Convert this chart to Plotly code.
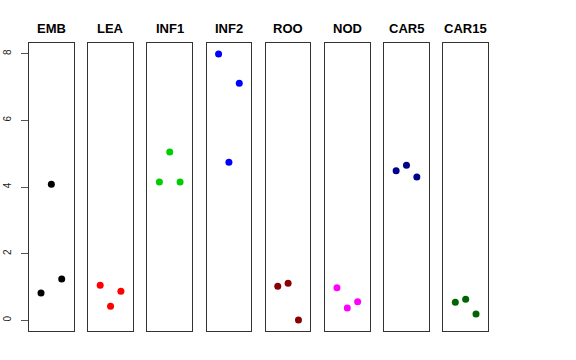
import plotly.graph_objects as go

groups = ["EMB", "LEA", "INF1", "INF2", "ROO", "NOD", "CAR5", "CAR15"]
colors = ["#000000", "#FF0000", "#00CD00", "#0000FF", "#8B0000", "#FF00FF", "#00008B", "#006400"]
replicate = [1, 2, 3]
EMB = [0.82, 4.08, 1.24]
LEA = [1.05, 0.42, 0.87]
INF1 = [4.15, 5.05, 4.15]
INF2 = [7.99, 4.74, 7.11]
ROO = [1.02, 1.11, 0.01]
NOD = [0.98, 0.37, 0.56]
CAR5 = [4.49, 4.65, 4.30]
CAR15 = [0.54, 0.63, 0.19]
series = [EMB, LEA, INF1, INF2, ROO, NOD, CAR5, CAR15]
y_ticks = [0, 2, 4, 6, 8]

W, H = 576, 360
L, R, T, B = 29, 88, 43, 29
pw = W - L - R
step = 59.19
panel_w = 44.7

fig = go.Figure()
layout = dict(
    width=W, height=H,
    margin=dict(l=L, r=R, t=T, b=B),
    paper_bgcolor="white", plot_bgcolor="white",
    showlegend=False,
    font=dict(family="Liberation Sans, Arial, sans-serif", color="black"),
    annotations=[],
)

for i, (g, c, vals) in enumerate(zip(groups, colors, series)):
    n = "" if i == 0 else str(i + 1)
    x0 = (i * step) / pw
    x1 = (i * step + panel_w) / pw
    fig.add_trace(go.Scatter(
        x=replicate, y=vals, mode="markers",
        marker=dict(color=c, size=7, line=dict(width=0)),
        xaxis="x" + n, yaxis="y" + n, hoverinfo="skip",
    ))
    layout["xaxis" + n] = dict(
        domain=[max(0, x0), min(1, x1)], range=[-0.16, 4.16],
        showgrid=False, zeroline=False, showticklabels=False, ticks="",
        showline=True, mirror=True, linecolor="#333333", linewidth=1,
        anchor="y" + n, automargin=False,
    )
    ya = dict(
        domain=[0, 1], range=[-0.32, 8.32], showgrid=False, zeroline=False,
        showline=True, mirror=True, linecolor="#333333", linewidth=1,
        anchor="x" + n, automargin=False,
    )
    if i == 0:
        ya.update(tickvals=y_ticks, ticktext=[str(v) for v in y_ticks],
                  ticks="outside", ticklen=7, tickcolor="#555555", tickwidth=1,
                  tickangle=-90, tickfont=dict(size=10, color="#222222"),
                  ticklabelstandoff=6)
    else:
        ya.update(showticklabels=False, ticks="")
    layout["yaxis" + n] = ya
    layout["annotations"].append(dict(
        text="<b>" + g + "</b>", x=(x0 + x1) / 2, y=1, xref="paper", yref="paper",
        xanchor="center", yanchor="bottom", yshift=5, showarrow=False,
        font=dict(size=13, color="black", family="Liberation Sans, Arial, sans-serif"),
    ))

fig.update_layout(**layout)
fig.write_html("out.html", config={"displayModeBar": False},
               post_script="document.body.style.margin='0';document.body.style.overflow='hidden';")
